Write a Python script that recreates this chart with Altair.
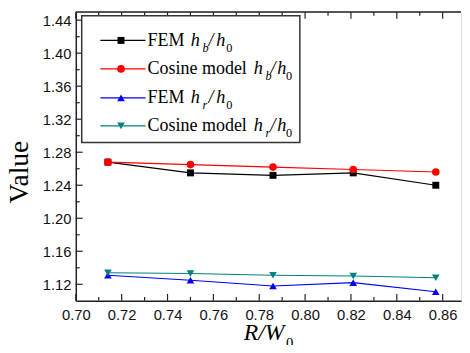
import altair as alt
import pandas as pd

# ---- data ----
ratio = [0.714, 0.750, 0.786, 0.821, 0.857]
fem_hb = [1.268, 1.255, 1.252, 1.255, 1.240]
cos_hb = [1.268, 1.265, 1.262, 1.259, 1.256]
fem_hr = [1.131, 1.125, 1.118, 1.122, 1.111]
cos_hr = [1.134, 1.133, 1.131, 1.130, 1.128]

series_names = ["FEM hb", "Cosine hb", "FEM hr", "Cosine hr"]
series_vals = [fem_hb, cos_hb, fem_hr, cos_hr]
series_colors = ["#000000", "#FF0000", "#0000FF", "#008080"]
series_shapes = ["square", "circle", "triangle-up", "triangle-down"]
series_sizes = [50, 60, 60, 60]

x_major = [0.70, 0.72, 0.74, 0.76, 0.78, 0.80, 0.82, 0.84, 0.86]
x_minor = [0.71, 0.73, 0.75, 0.77, 0.79, 0.81, 0.83, 0.85]
y_major = [1.12, 1.16, 1.20, 1.24, 1.28, 1.32, 1.36, 1.40, 1.44]
y_minor = [1.14, 1.18, 1.22, 1.26, 1.30, 1.34, 1.38, 1.42]

W, H = 392, 294
XDOM = [0.70, 0.868]
YDOM = [1.10, 1.45]
AX = "#222222"

xs = alt.Scale(domain=XDOM, nice=False, zero=False)
ys = alt.Scale(domain=YDOM, nice=False, zero=False)

xaxis = alt.Axis(values=x_major, format=".2f", ticks=False, grid=False,
                 labelFont="Liberation Sans", labelFontSize=15, labelColor="#111",
                 labelPadding=7, domainColor=AX, domainWidth=1.5, title=None,
                 labelFlush=False, labelOverlap=False)
yaxis = alt.Axis(values=y_major, format=".2f", ticks=False, grid=False,
                 labelFont="Liberation Sans", labelFontSize=15, labelColor="#111",
                 labelPadding=5, domainColor=AX, domainWidth=1.5, title=None,
                 labelFlush=False, labelOverlap=False)

X = lambda f: alt.X(f"{f}:Q", scale=xs, axis=xaxis)
Y = lambda f: alt.Y(f"{f}:Q", scale=ys, axis=yaxis)

layers = []
for name, vals, col, shp, sz in zip(series_names, series_vals, series_colors,
                                    series_shapes, series_sizes):
    df = pd.DataFrame({"x": ratio, "y": vals})
    base = alt.Chart(df)
    layers.append(base.mark_line(color=col, strokeWidth=1.1).encode(x=X("x"), y=Y("y")))
    layers.append(base.mark_point(shape=shp, color=col, filled=True, opacity=1,
                                  size=sz).encode(x=X("x"), y=Y("y")))

# inward ticks
def xticks(vals, length):
    d = pd.DataFrame({"x": vals})
    b = alt.Chart(d).mark_rule(color=AX, strokeWidth=1.2)
    return [b.encode(x=X("x"), y=alt.value(H), y2=alt.value(H - length)),
            b.encode(x=X("x"), y=alt.value(0), y2=alt.value(length))]

def yticks(vals, length):
    d = pd.DataFrame({"y": vals})
    b = alt.Chart(d).mark_rule(color=AX, strokeWidth=1.2)
    return [b.encode(y=Y("y"), x=alt.value(0), x2=alt.value(length))]

layers += xticks(x_major, 7) + xticks(x_minor, 4) + yticks(y_major, 7) + yticks(y_minor, 4)

one = pd.DataFrame({"a": [0]})

# top frame line
layers.append(alt.Chart(one).mark_rule(color=AX, strokeWidth=1.5).encode(
    x=alt.value(0), x2=alt.value(W), y=alt.value(0)))

def txt(s, x, y, size, style="normal", font="Liberation Serif", angle=0,
        align="left", baseline="alphabetic"):
    kw = dict(text=s, font=font, fontSize=size, fontStyle=style, align=align,
              baseline=baseline, color="#000")
    if angle:
        kw["angle"] = angle
    return alt.Chart(one).mark_text(**kw).encode(x=alt.value(x), y=alt.value(y))

# legend box
layers.append(alt.Chart(one).mark_rect(fill="white", stroke="#333", strokeWidth=1.5).encode(
    x=alt.value(6), x2=alt.value(228), y=alt.value(4), y2=alt.value(133)))

row_y = [29, 58, 87.5, 116]
labels = ["FEM", "Cosine model", "FEM", "Cosine model"]
subs = ["b", "b", "r", "r"]
for i in range(4):
    cy = row_y[i]
    col = series_colors[i]
    layers.append(alt.Chart(one).mark_rule(color=col, strokeWidth=1.2).encode(
        x=alt.value(25), x2=alt.value(71), y=alt.value(cy)))
    layers.append(alt.Chart(one).mark_point(shape=series_shapes[i], color=col, filled=True,
                                            opacity=1, size=series_sizes[i]).encode(
        x=alt.value(46), y=alt.value(cy)))
    layers.append(txt(labels[i], 73, cy + 5.5, 18.3))
    if labels[i] == "FEM":
        hx = [117, 129, 135, 143, 153]
    else:
        hx = [181, 193, 198, 205, 214]
    layers.append(txt("h", hx[0], cy + 5.5, 18.5, "italic"))
    layers.append(txt(subs[i], hx[1], cy + 11.5, 12.5, "italic"))
    layers.append(txt("/", hx[2], cy + 5.5, 18.5, "italic"))
    layers.append(txt("h", hx[3], cy + 5.5, 18.5, "italic"))
    layers.append(txt("0", hx[4], cy + 11.5, 12.5))

# axis titles
layers.append(txt("Value", -57, 163, 28, angle=270, align="center", baseline="middle"))
layers.append(txt("R/W", 171, 334, 24, "italic"))
layers.append(txt("0", 214, 342, 15))

chart = alt.layer(*layers).properties(
    width=W, height=H,
    autosize=alt.AutoSizeParams(type="none"),
    padding={"left": 69, "top": 1, "right": 1, "bottom": 42},
).configure_view(stroke=None).configure(background="white")

chart.save("out.html", embed_options={"renderer": "svg", "actions": False})
